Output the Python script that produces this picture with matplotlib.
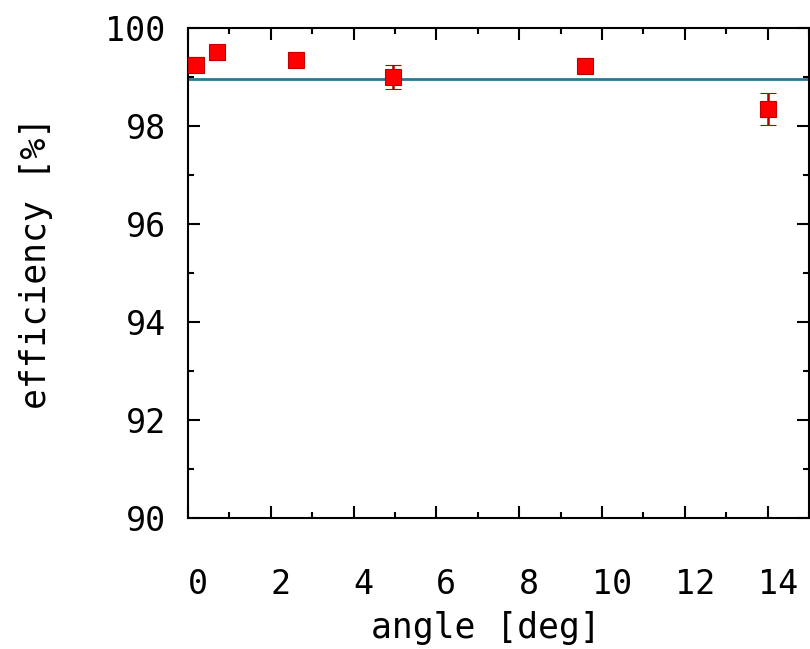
import matplotlib
matplotlib.use("Agg")
import matplotlib.pyplot as plt
import matplotlib.transforms as mtransforms
from matplotlib.ticker import MultipleLocator

# efficiency vs. beam angle, with the mean level
angle = [0.2, 0.7, 2.6, 4.95, 9.6, 14.0]
efficiency = [99.25, 99.50, 99.35, 99.00, 99.23, 98.35]
efficiency_err = [0.15, 0.15, 0.15, 0.25, 0.15, 0.32]
mean_level = 98.96

plt.rcParams['font.family'] = ['DejaVu Sans Mono']

fig = plt.figure(figsize=(8.1, 6.49), dpi=100)
ax = fig.add_axes([0.2321, 0.2018, 0.7667, 0.7551])

ax.axhline(mean_level, color="#2b7896", linewidth=2, zorder=1)
ax.errorbar(angle, efficiency, yerr=efficiency_err, fmt="s", color="#ff0000",
            markersize=11.5, markeredgecolor="#c00000", markeredgewidth=0.8,
            ecolor="#b00000", elinewidth=1.8, capsize=6, capthick=1.8, zorder=3)

ax.set_xlim(0, 15)
ax.set_ylim(90, 100)
ax.xaxis.set_major_locator(MultipleLocator(2))
ax.xaxis.set_minor_locator(MultipleLocator(1))
ax.yaxis.set_major_locator(MultipleLocator(2))
ax.yaxis.set_minor_locator(MultipleLocator(1))

ax.tick_params(which="both", direction="in", top=True, right=True, width=1.5, colors="black")
ax.tick_params(which="major", length=8.5)
ax.tick_params(which="minor", length=4.3)
ax.tick_params(axis="x", which="major", labelsize=24, pad=36)
ax.tick_params(axis="y", which="major", labelsize=24, pad=16)

for spine in ax.spines.values():
    spine.set_linewidth(1.5)

# gnuplot puts the x tick labels a little right of their ticks
shift = mtransforms.ScaledTranslation(10 / 100, 0, fig.dpi_scale_trans)
for lbl in ax.get_xticklabels():
    lbl.set_transform(lbl.get_transform() + shift)

ax.set_xlabel("angle [deg]", fontsize=25)
ax.set_ylabel("efficiency [%]", fontsize=25)
ax.xaxis.set_label_coords(0.48, -0.19)
ax.yaxis.set_label_coords(-0.218, 0.52)

fig.savefig("out.png", dpi=100)
